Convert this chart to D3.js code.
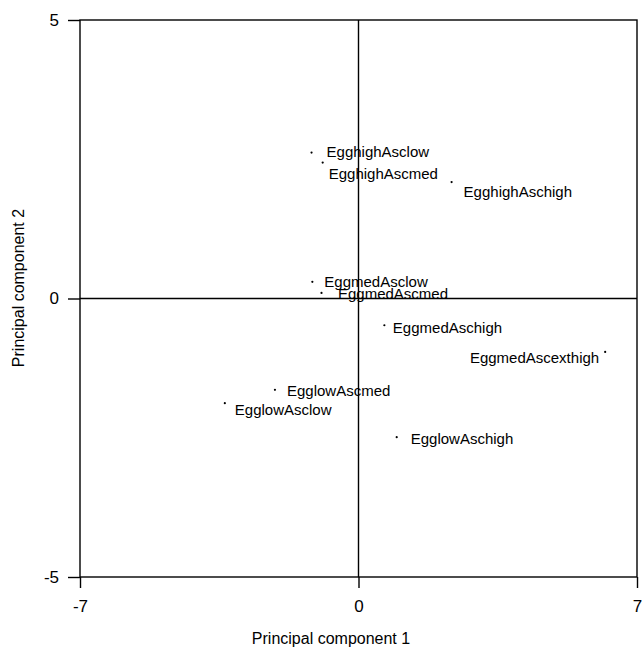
<!DOCTYPE html>
<html>
<head>
<meta charset="utf-8">
<script src="https://cdn.jsdelivr.net/npm/d3@7"></script>
<style>
  html, body { margin: 0; padding: 0; background: #fff; }
  svg { display: block; }
  text { font-family: "Liberation Sans", Arial, sans-serif; fill: #000; }
</style>
</head>
<body>
<svg id="chart" width="642" height="650"></svg>
<script>
// Treatment combinations and their scores on the first two principal components
const treatments = [
  "EgghighAsclow", "EgghighAscmed", "EgghighAschigh",
  "EggmedAsclow", "EggmedAscmed", "EggmedAschigh", "EggmedAscexthigh",
  "EgglowAsclow", "EgglowAscmed", "EgglowAschigh"
];
const pc1 = [-1.18, -0.90, 2.34, -1.16, -0.93, 0.65, 6.20, -3.36, -2.10, 0.96];
const pc2 = [2.62, 2.44, 2.09, 0.30, 0.10, -0.48, -0.96, -1.88, -1.64, -2.49];

const xTicks = [-7, 0, 7];
const yTicks = [-5, 0, 5];

// Label placement relative to each point (pixels)
const labelLayout = {
  EgghighAsclow:    { dx: 15,  dy: 4,    anchor: "start" },
  EgghighAscmed:    { dx: 6,   dy: 16.5, anchor: "start" },
  EgghighAschigh:   { dx: 12,  dy: 14.5, anchor: "start" },
  EggmedAsclow:     { dx: 12,  dy: 5,    anchor: "start" },
  EggmedAscmed:     { dx: 16.5,dy: 5.6,  anchor: "start" },
  EggmedAschigh:    { dx: 8.5, dy: 7.7,  anchor: "start" },
  EggmedAscexthigh: { dx: -6,  dy: 11,   anchor: "end" },
  EgglowAsclow:     { dx: 10,  dy: 12,   anchor: "start" },
  EgglowAscmed:     { dx: 12,  dy: 5.7,  anchor: "start" },
  EgglowAschigh:    { dx: 14,  dy: 7,    anchor: "start" }
};

const svg = d3.select("#chart");
const plot = { left: 80, right: 637, top: 20, bottom: 577 };

const x = d3.scaleLinear().domain([-7, 7]).range([plot.left, plot.right]);
const y = d3.scaleLinear().domain([-5, 5]).range([plot.bottom, plot.top]);

const stroke = "#000", sw = 1.4;

// Frame
svg.append("rect")
  .attr("x", plot.left).attr("y", plot.top)
  .attr("width", plot.right - plot.left).attr("height", plot.bottom - plot.top)
  .attr("fill", "none").attr("stroke", stroke).attr("stroke-width", sw);

// Zero reference lines
svg.append("line")
  .attr("x1", x(0)).attr("x2", x(0)).attr("y1", plot.top).attr("y2", plot.bottom)
  .attr("stroke", stroke).attr("stroke-width", sw);
svg.append("line")
  .attr("x1", plot.left).attr("x2", plot.right).attr("y1", y(0)).attr("y2", y(0))
  .attr("stroke", stroke).attr("stroke-width", sw);

// Axes (plain hyphen-minus for negative tick labels)
const plainNum = d => String(d);
const xAxis = d3.axisBottom(x).tickValues(xTicks).tickSize(11).tickPadding(12)
  .tickFormat(plainNum);
const yAxis = d3.axisLeft(y).tickValues(yTicks).tickSize(12).tickPadding(9)
  .tickFormat(plainNum);

const gx = svg.append("g").attr("transform", `translate(0,${plot.bottom})`).call(xAxis);
const gy = svg.append("g").attr("transform", `translate(${plot.left},0)`).call(yAxis);

[gx, gy].forEach(g => {
  g.select(".domain").remove();
  g.selectAll(".tick line").attr("stroke", stroke).attr("stroke-width", sw);
  g.selectAll(".tick text")
    .attr("font-family", "'Liberation Sans', Arial, sans-serif")
    .attr("font-size", 17).attr("fill", "#000");
});
gx.selectAll(".tick text").attr("dy", "0.71em");

// Axis titles
svg.append("text")
  .attr("x", 331).attr("y", 644)
  .attr("text-anchor", "middle").attr("font-size", 16)
  .text("Principal component 1");
svg.append("text")
  .attr("transform", "translate(24,288) rotate(-90)")
  .attr("text-anchor", "middle").attr("font-size", 16)
  .text("Principal component 2");

// Points and labels
const pts = treatments.map((name, i) => ({ name, v1: pc1[i], v2: pc2[i] }));

svg.append("g").selectAll("circle").data(pts).join("circle")
  .attr("cx", d => x(d.v1)).attr("cy", d => y(d.v2))
  .attr("r", 1.1).attr("fill", "#000");

svg.append("g").selectAll("text").data(pts).join("text")
  .attr("x", d => x(d.v1) + labelLayout[d.name].dx)
  .attr("y", d => y(d.v2) + labelLayout[d.name].dy)
  .attr("text-anchor", d => labelLayout[d.name].anchor)
  .attr("font-size", 15)
  .text(d => d.name);
</script>
</body>
</html>
